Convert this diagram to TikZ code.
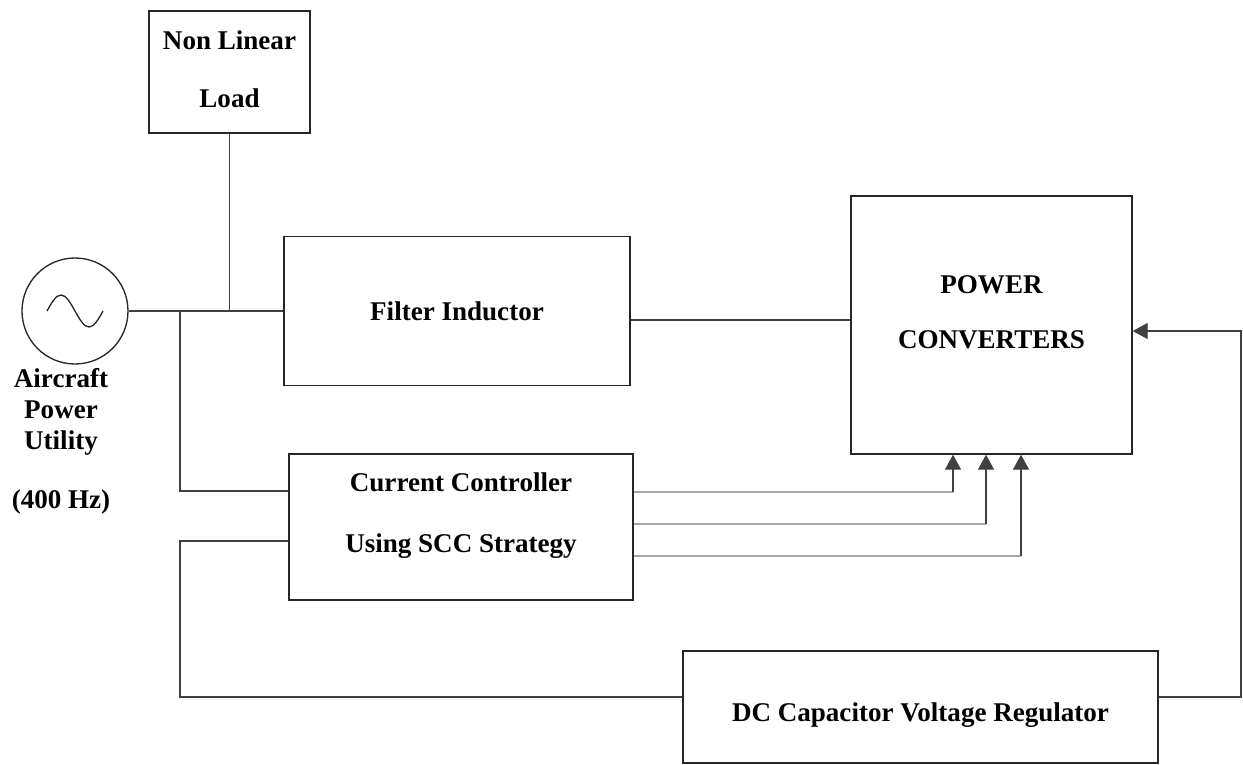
\documentclass[tikz,border=0pt]{standalone}
\usepackage{fontspec}
\setmainfont{Liberation Serif}
\usetikzlibrary{arrows.meta}

\begin{document}
\begin{tikzpicture}[x=0.02cm,y=-0.02cm,line width=0.75pt,>={Triangle[length=3mm,width=3.2mm]},
  blk/.style={draw=black!85,rectangle,align=center,inner sep=0pt,
    font=\bfseries\fontsize{15.4}{17.6}\selectfont},
  wire/.style={draw=black!75},
  ctl/.style={draw=black!35,line width=1pt}]
  \useasboundingbox (0,0) rectangle (1243,764);
  % blocks
  \node[blk,minimum width=161*0.02cm,minimum height=122*0.02cm] (load) at (229.5,72)
    {Non Linear\\[15.5pt]Load\\[-14pt]};
  \node[blk,minimum width=346*0.02cm,minimum height=149*0.02cm] (filt) at (457,311)
    {Filter Inductor};
  \node[blk,minimum width=281*0.02cm,minimum height=258*0.02cm] (pc) at (991.5,325)
    {POWER\\[14pt]CONVERTERS\\[-3pt]};
  \node[blk,minimum width=344*0.02cm,minimum height=146*0.02cm] (ctrl) at (461,527)
    {Current Controller\\[17pt]Using SCC Strategy\\[-1pt]};
  \node[blk,minimum width=475*0.02cm,minimum height=112*0.02cm,text height=18pt,text depth=1.4pt]
    (dc) at (920.5,707) {DC Capacitor Voltage Regulator};
  % source
  \node[draw=black!85,circle,minimum size=106*0.02cm,inner sep=0pt] (src) at (75,311) {};
  \draw[black!85] (47,311) sin (61,295) cos (75,311) sin (89,327) cos (103,311);
  \node[align=center,inner sep=0pt,anchor=north,font=\bfseries\fontsize{15.4}{17.6}\selectfont]
    (lbl) at (61,368) {Aircraft\\Power\\Utility\\[16pt](400 Hz)};
  % connections
  \coordinate (j1) at (180,311);
  \draw[wire] (src.east) -- (filt.west);
  \draw[wire] (load.south) -- (load.south |- src.east);
  \draw[wire] (j1) |- (ctrl.west |- 0,491);
  \draw[wire] (filt.east |- 0,320) -- (pc.west |- 0,320);
  \foreach \y/\x in {492/953,524/986,556/1021}{
    \draw[ctl] (ctrl.east |- 0,\y) -- (\x,\y);
    \draw[wire,->] (\x,\y) -- (pc.south -| \x,0);
  }
  \draw[wire] (ctrl.west |- 0,541) -| (180,697) -- (dc.west |- 0,697);
  \draw[wire,->] (dc.east |- 0,697) -| (1241,331) -- (pc.east |- 0,331);
\end{tikzpicture}
\end{document}
